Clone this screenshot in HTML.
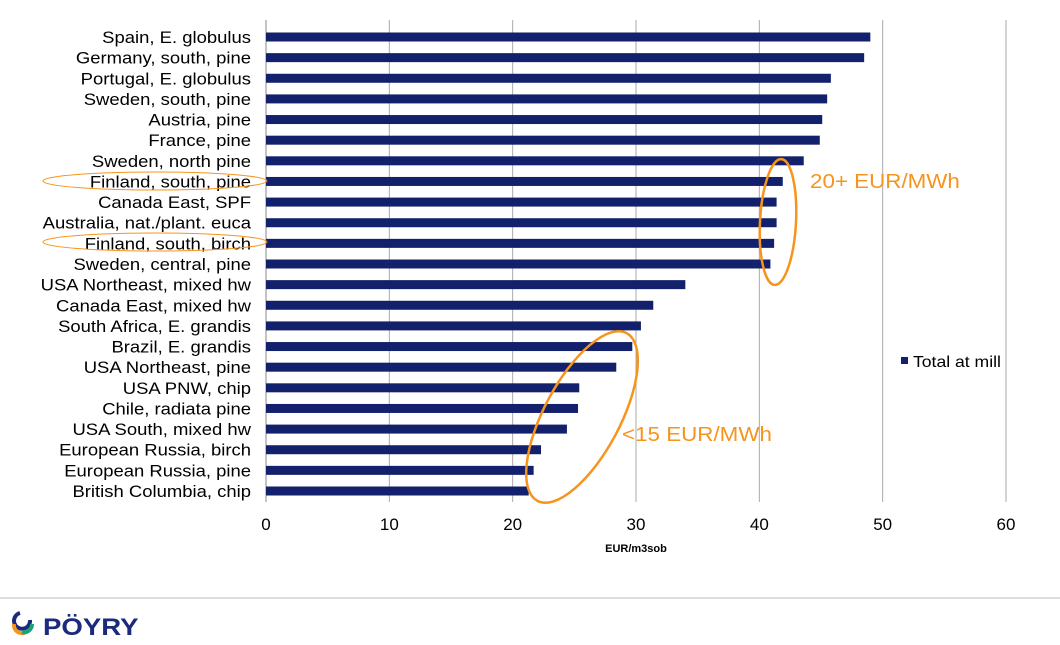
<!DOCTYPE html>
<html><head><meta charset="utf-8">
<style>
body{margin:0;width:1060px;height:640px;background:#fff;font-family:"Liberation Sans",sans-serif;overflow:hidden}
</style></head>
<body>
<svg id="chart" width="1060" height="640" xmlns="http://www.w3.org/2000/svg">
<g id="grid"></g><g id="bars"></g><g id="labels" transform="translate(251,0) scale(1.12,1) translate(-251,0)"></g><g id="ticks"></g>
<text x="636" y="552" font-size="11" font-weight="bold" text-anchor="middle" fill="#000">EUR/m3sob</text>
<g>
<rect x="901" y="357" width="7" height="7" fill="#13206b"/>
<text x="913" y="367" font-size="16" transform="translate(913,0) scale(1.1,1) translate(-913,0)" fill="#000">Total at mill</text>
</g>
<ellipse cx="155" cy="181" rx="112" ry="9" fill="none" stroke="#f7941d" stroke-width="1"/>
<ellipse cx="155" cy="242" rx="112" ry="9" fill="none" stroke="#f7941d" stroke-width="1"/>
<ellipse cx="778" cy="222" rx="18" ry="63" transform="rotate(3 778 222)" fill="none" stroke="#f7941d" stroke-width="2.5"/>
<ellipse cx="582" cy="417" rx="38" ry="95" transform="rotate(28 582 417)" fill="none" stroke="#f7941d" stroke-width="2.5"/>
<text x="810" y="188" font-size="20" transform="translate(810,0) scale(1.12,1) translate(-810,0)" fill="#f7941d">20+ EUR/MWh</text>
<text x="622" y="441" font-size="20" transform="translate(622,0) scale(1.12,1) translate(-622,0)" fill="#f7941d">&lt;15 EUR/MWh</text>
<line x1="0" y1="598" x2="1060" y2="598" stroke="#bbb" stroke-width="1"/>
<g>
<path d="M30 620 A8 8 0 1 1 20 613" fill="none" stroke="#1b2a7a" stroke-width="4"/>
<path d="M14 624 A8 8 0 0 0 26 632" fill="none" stroke="#f7941d" stroke-width="4"/>
<path d="M22 632 A8 8 0 0 0 32 624" fill="none" stroke="#1aa37a" stroke-width="4"/>
<text x="43" y="635" font-size="24" font-weight="bold" transform="translate(43,0) scale(1.15,1) translate(-43,0)" fill="#1b2a7a">PÖYRY</text>
</g>
</svg>
<script>
const categories=["Spain, E. globulus","Germany, south, pine","Portugal, E. globulus","Sweden, south, pine","Austria, pine","France, pine","Sweden, north pine","Finland, south, pine","Canada East, SPF","Australia, nat./plant. euca","Finland, south, birch","Sweden, central, pine","USA Northeast, mixed hw","Canada East, mixed hw","South Africa, E. grandis","Brazil, E. grandis","USA Northeast, pine","USA PNW, chip","Chile, radiata pine","USA South, mixed hw","European Russia, birch","European Russia, pine","British Columbia, chip"];
const values=[49.0,48.5,45.8,45.5,45.1,44.9,43.6,41.9,41.4,41.4,41.2,40.9,34.0,31.4,30.4,29.7,28.4,25.4,25.3,24.4,22.3,21.7,21.3];
const tickLabels=[0,10,20,30,40,50,60];
const NS="http://www.w3.org/2000/svg";
const x=v=>266+v*(740/60);
const y=i=>37+i*(454/(categories.length-1));
function mk(tag,attrs,parent){const e=document.createElementNS(NS,tag);for(const k in attrs)e.setAttribute(k,attrs[k]);document.getElementById(parent).appendChild(e);return e;}
tickLabels.forEach(t=>{
  if(t>0){const g=mk('line',{x1:x(t),x2:x(t),y1:20,y2:502,stroke:'#aaa','stroke-width':1},'grid');
  
  }
  const tx=mk('text',{x:x(t),y:530,'font-size':17,'text-anchor':'middle',fill:'#000'},'ticks');
  tx.textContent=t;
  
  
});
const ax=mk('line',{x1:266,x2:266,y1:20,y2:502,stroke:'#888','stroke-width':1},'grid');


categories.forEach((c,i)=>{
  const b=mk('rect',{x:266,y:y(i)-4.5,width:x(values[i])-266,height:9,fill:'#13206b'},'bars');
  
  
  const l=mk('text',{x:251,y:y(i)+6,'font-size':16.5,'text-anchor':'end',fill:'#000'},'labels');
  l.textContent=c;
  
  
});
</script>
</body></html>
